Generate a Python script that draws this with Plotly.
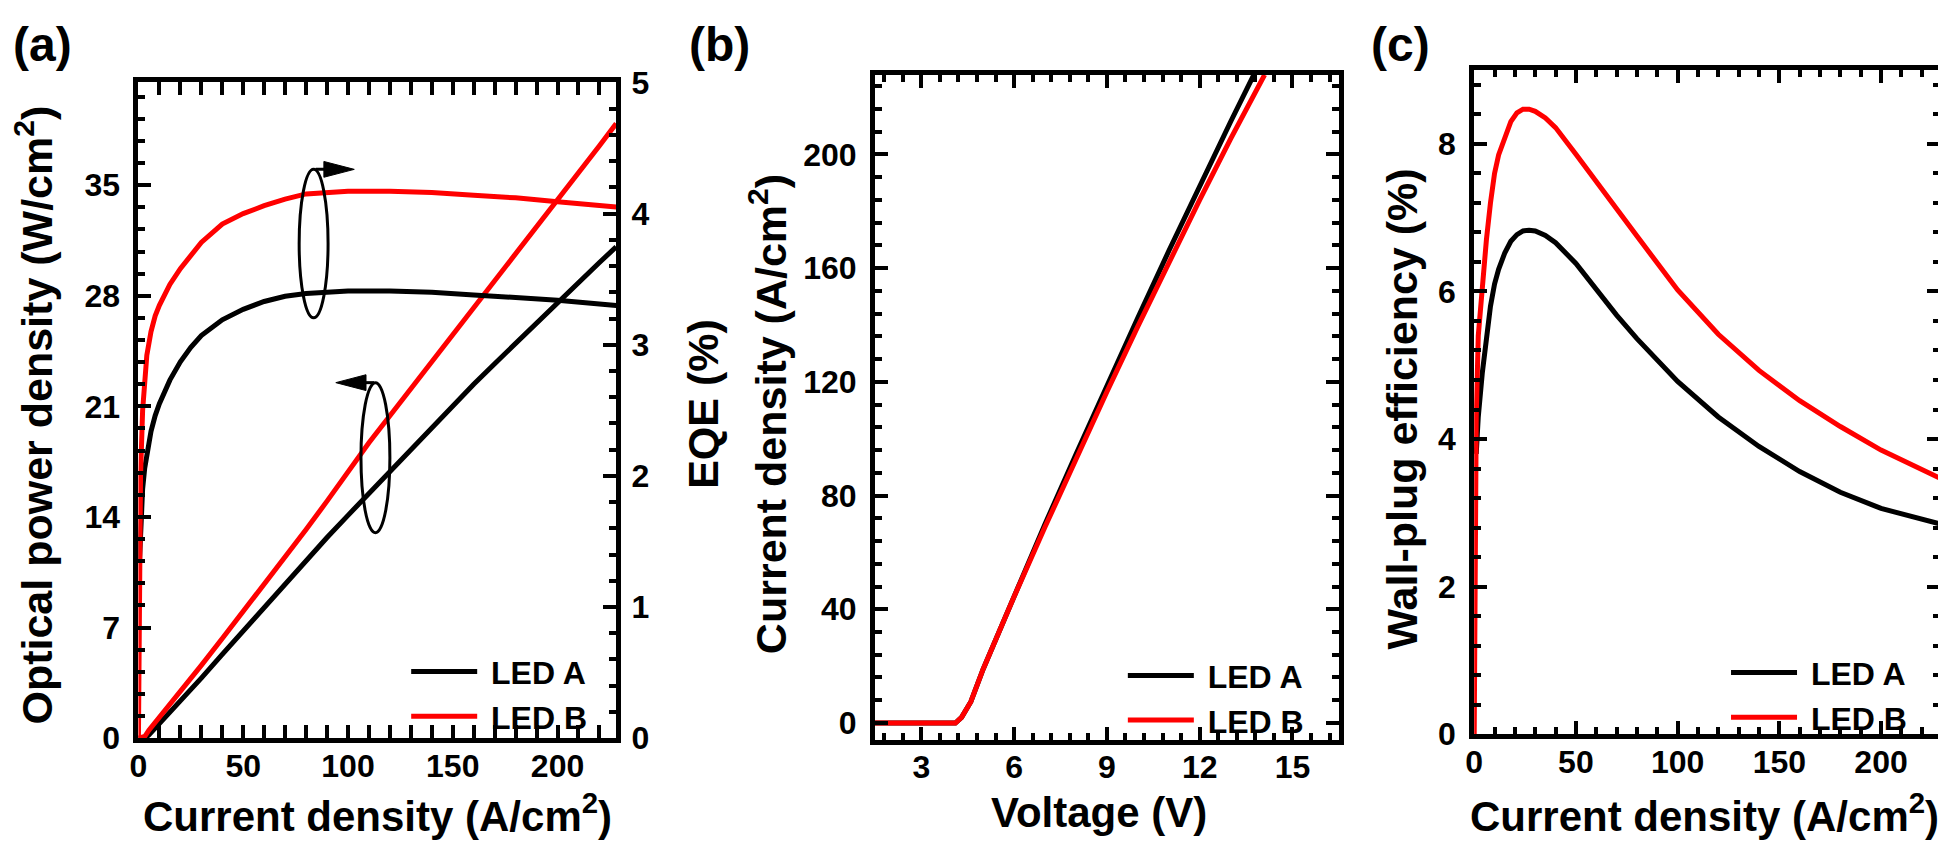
import plotly.graph_objects as go

# ---------------- data ----------------
# (a) optical power density (left axis) vs current density
j_pow = [0, 3, 5, 10, 20, 30, 40, 50, 60, 70, 80, 90, 100, 110, 120, 130, 140,
         150, 160, 170, 180, 190, 200, 210, 220, 228]
pow_A = [0, 0, 0.2, 0.9, 2.3, 3.8, 5.3, 6.8, 8.3, 9.8, 11.2, 12.7, 14.1, 15.5,
         16.9, 18.3, 19.7, 21.0, 22.4, 23.7, 25.0, 26.3, 27.6, 28.9, 30.1, 31.1]
pow_B = [0, 0.1, 0.5, 1.3, 2.9, 4.6, 6.3, 8.0, 9.7, 11.4, 13.2, 15.0, 16.9, 18.7,
         20.4, 22.1, 23.9, 25.6, 27.2, 28.9, 30.6, 32.3, 34.0, 35.7, 37.5, 38.9]

# (a) EQE (right axis)
j_eqe_A = [0.5, 1, 2, 3, 4, 6, 8, 10, 15, 20, 25, 30, 40, 50, 60, 70, 80, 90,
           100, 120, 140, 160, 180, 200, 228]
eqe_A = [1.35, 1.62, 1.9, 2.06, 2.17, 2.34, 2.46, 2.55, 2.73, 2.87, 2.98, 3.07,
         3.19, 3.27, 3.33, 3.37, 3.39, 3.40, 3.41, 3.41, 3.40, 3.38, 3.36, 3.34,
         3.30]
j_eqe_B = [0, 0.5, 1, 2, 3, 4, 6, 8, 10, 15, 20, 25, 30, 40, 50, 60, 70, 80, 90,
           100, 120, 140, 160, 180, 200, 228]
eqe_B = [0, 1.4, 2.0, 2.5, 2.75, 2.92, 3.1, 3.22, 3.3, 3.46, 3.58, 3.68, 3.78,
         3.92, 4.0, 4.06, 4.11, 4.15, 4.16, 4.17, 4.17, 4.16, 4.14, 4.12, 4.09,
         4.05]

# (b) J-V
v_A = [1.5, 2, 3, 4, 4.1, 4.3, 4.6, 5, 5.5, 6, 7, 8, 9, 10, 11, 12, 13, 13.75]
jv_A = [0, 0, 0, 0, 0, 2, 7.5, 19, 32, 45, 70, 94.5, 119, 142.5, 166, 189,
        211.5, 228]
v_B = [1.5, 2, 3, 4, 4.1, 4.3, 4.6, 5, 5.5, 6, 7, 8, 9, 10, 11, 12, 13, 14, 14.1]
jv_B = [0, 0, 0, 0, 0, 2, 7.5, 19, 32, 44.5, 69, 93, 116.5, 139.5, 162, 184,
        205.5, 226, 228]

# (c) wall-plug efficiency
j_wpe_A = [1, 2, 4, 6, 8, 10, 12, 15, 18, 21, 24, 27, 30, 35, 40, 50, 60, 70,
           80, 90, 100, 120, 140, 160, 180, 200, 229]
wpe_A = [3.8, 4.3, 4.9, 5.4, 5.8, 6.1, 6.3, 6.52, 6.68, 6.77, 6.82, 6.83, 6.82,
         6.76, 6.66, 6.38, 6.02, 5.68, 5.36, 5.06, 4.78, 4.3, 3.9, 3.56, 3.28,
         3.06, 2.85]
j_wpe_B = [0, 1, 2, 4, 6, 8, 10, 12, 15, 18, 21, 24, 27, 30, 35, 40, 50, 60, 70,
           80, 90, 100, 120, 140, 160, 180, 200, 229]
wpe_B = [0, 4.3, 5.4, 6.1, 6.7, 7.2, 7.6, 7.85, 8.1, 8.3, 8.42, 8.47, 8.47, 8.44,
         8.35, 8.22, 7.86, 7.48, 7.12, 6.75, 6.38, 6.02, 5.42, 4.93, 4.52, 4.17,
         3.85, 3.47]

names = ["LED A", "LED B"]
# --------------------------------------

# the page body has an 8px margin: the figure is placed at (8, 8)
OFF = 8
W, H = 1946 - OFF, 848 - OFF
FONT = "Liberation Sans, Arial, sans-serif"
BLACK, RED = "#000000", "#ff0000"
LW = 5
GAP = "\u00a0"  # small gap between legend line and label


def fx(p):
    return (p - OFF) / W


def fy(p):
    return 1 - (p - OFF) / H


fig = go.Figure()

# panel (a)
fig.add_trace(go.Scatter(x=j_pow, y=pow_A, mode="lines", line=dict(color=BLACK, width=LW),
                         xaxis="x", yaxis="y", showlegend=False))
fig.add_trace(go.Scatter(x=j_pow, y=pow_B, mode="lines", line=dict(color=RED, width=LW),
                         xaxis="x", yaxis="y", showlegend=False))
fig.add_trace(go.Scatter(x=j_eqe_A, y=eqe_A, mode="lines", name=GAP + names[0],
                         line=dict(color=BLACK, width=LW), xaxis="x", yaxis="y2",
                         legend="legend"))
fig.add_trace(go.Scatter(x=j_eqe_B, y=eqe_B, mode="lines", name=GAP + names[1],
                         line=dict(color=RED, width=LW), xaxis="x", yaxis="y2",
                         legend="legend"))
# panel (b)
fig.add_trace(go.Scatter(x=v_A, y=jv_A, mode="lines", name=GAP + names[0],
                         line=dict(color=BLACK, width=LW), xaxis="x2", yaxis="y3",
                         legend="legend2"))
fig.add_trace(go.Scatter(x=v_B, y=jv_B, mode="lines", name=GAP + names[1],
                         line=dict(color=RED, width=LW), xaxis="x2", yaxis="y3",
                         legend="legend2"))
# panel (c)
fig.add_trace(go.Scatter(x=j_wpe_A, y=wpe_A, mode="lines", name=GAP + names[0],
                         line=dict(color=BLACK, width=LW), xaxis="x3", yaxis="y4",
                         legend="legend3"))
fig.add_trace(go.Scatter(x=j_wpe_B, y=wpe_B, mode="lines", name=GAP + names[1],
                         line=dict(color=RED, width=LW), xaxis="x3", yaxis="y4",
                         legend="legend3"))

tickfont = dict(size=32, family=FONT, weight="bold", color="black")


def ax(rng, dtick, mdtick, domain, **kw):
    d = dict(range=rng, dtick=dtick, tick0=0, domain=domain, showline=True,
             linewidth=LW, linecolor="black", ticks="inside", ticklen=13,
             tickwidth=4, tickcolor="black", showgrid=False, zeroline=False,
             tickfont=tickfont, ticklabelstandoff=7,
             minor=dict(ticks="inside", ticklen=7, tickwidth=4, tickcolor="black",
                        dtick=mdtick, tick0=0, showgrid=False))
    d.update(kw)
    return d


xa = [fx(130), fx(610)]
ya = [fy(752), fy(67)]
xb = [fx(870), fx(1336)]
yb = [fy(754), fy(59)]
xc = [fx(1472), fx(1940)]
yc = [fy(748), fy(54)]

leg_font = dict(size=32, family=FONT, weight="bold", color="black")


def legend(xp, yp):
    return dict(x=fx(xp), y=fy(yp), xanchor="left", yanchor="top",
                bgcolor="rgba(0,0,0,0)", borderwidth=0, font=leg_font,
                itemwidth=66, tracegroupgap=0)


XSO = -5  # x tick-label standoff
fig.update_layout(
    width=W, height=H, margin=dict(l=0, r=0, t=0, b=0),
    paper_bgcolor="white", plot_bgcolor="white",
    font=dict(family=FONT, color="black"),
    xaxis=ax([0, 228], 50, 10, xa, anchor="y", mirror="allticks",
             ticklabelstandoff=XSO),
    yaxis=ax([0, 41.5], 7, 1.4, ya, anchor="x", mirror=False),
    yaxis2=ax([0, 5], 1, 0.2, ya, anchor="x", overlaying="y", side="right",
              ticklabelstandoff=4),
    xaxis2=ax([1.5, 16.5], 3, 0.6, xb, anchor="y3", mirror="allticks",
              ticklabelstandoff=XSO),
    yaxis3=ax([-6, 228], 40, 8, yb, anchor="x2", mirror="allticks"),
    xaxis3=ax([0, 229], 50, 10, xc, anchor="y4", mirror="allticks",
              ticklabelstandoff=XSO),
    yaxis4=ax([0, 9], 2, 0.4, yc, anchor="x3", mirror="allticks"),
    legend=legend(399, 654),
    legend2=legend(1119, 658),
    legend3=legend(1725, 655),
)

# ellipses and arrows (decorations) in (a)
deco = dict(color="black", width=3)
fig.add_shape(type="circle", xref="x", yref="y", x0=76.7, x1=90.5, y0=26.6, y1=36.0,
              line=deco)
fig.add_shape(type="circle", xref="x", yref="y", x0=106.2, x1=120, y0=13.0, y1=22.5,
              line=deco)
# arrow pointing right (to right axis)
fig.add_shape(type="line", xref="x", yref="y", x0=84.6, x1=90, y0=36.0, y1=36.0,
              line=deco)
fig.add_shape(type="path", xref="x", yref="y",
              path="M 88.5 35.5 L 103 36.0 L 88.5 36.5 Z",
              fillcolor="black", line=dict(color="black", width=1))
# arrow pointing left (to left axis)
fig.add_shape(type="line", xref="x", yref="y", x0=112.4, x1=107, y0=22.5, y1=22.5,
              line=deco)
fig.add_shape(type="path", xref="x", yref="y",
              path="M 108.6 22.0 L 94.2 22.5 L 108.6 23.0 Z",
              fillcolor="black", line=dict(color="black", width=1))

title_font = dict(size=43, family=FONT, weight="bold", color="black")
xtitle_font = dict(size=42, family=FONT, weight="bold", color="black")


def ann(text, xp, yp, angle=0, font=title_font, xanchor="center"):
    fig.add_annotation(text=text, x=fx(xp), y=fy(yp), xref="paper", yref="paper",
                       showarrow=False, textangle=angle, font=font,
                       xanchor=xanchor, yanchor="middle")


panel_font = dict(size=48, family=FONT, weight="bold", color="black")
ann("(a)", 2, 27, font=panel_font, xanchor="left")
ann("(b)", 681, 27, font=panel_font, xanchor="left")
ann("(c)", 1366, 27, font=panel_font, xanchor="left")

ann("Current density (A/cm<sup>2</sup>)", 370, 830, font=xtitle_font)
ann("Voltage (V)", 1095, 830, font=xtitle_font)
ann("Current density (A/cm<sup>2</sup>)", 1703, 830, font=xtitle_font)

ann("Optical power density (W/cm<sup>2</sup>)", 25, 414, angle=-90)
ann("EQE (%)", 697, 403, angle=-90)
ann("Current density (A/cm<sup>2</sup>)", 762, 413, angle=-90)
ann("Wall-plug efficiency (%)", 1399, 408, angle=-90)

fig.write_html("out.html")
